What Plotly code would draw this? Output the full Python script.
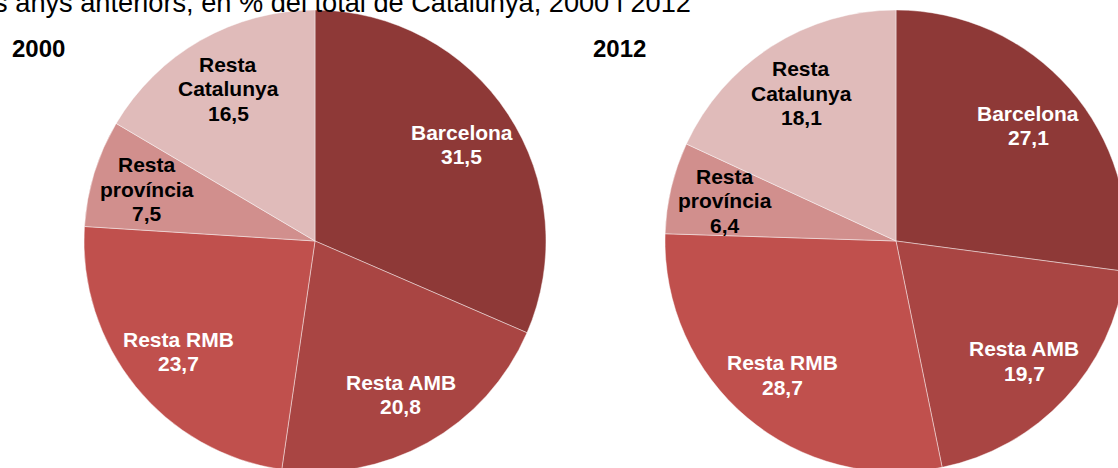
import math
import plotly.graph_objects as go

# ---------------- data ----------------
categories = ["Barcelona", "Resta AMB", "Resta RMB", "Resta província", "Resta Catalunya"]
label_lines = [["Barcelona"], ["Resta AMB"], ["Resta RMB"], ["Resta", "província"], ["Resta", "Catalunya"]]
values_2000 = [31.5, 20.8, 23.7, 7.5, 16.5]
values_2012 = [27.1, 19.7, 28.7, 6.4, 18.1]
years = ["2000", "2012"]
title_text = "es anys anteriors, en % del total de Catalunya, 2000 i 2012"

# ---------------- style ----------------
colors = ["#8E3937", "#A94543", "#C0504D", "#D18F8D", "#E0BBBA"]
text_colors = ["white", "white", "white", "black", "black"]
FONT = "Liberation Sans, Arial, sans-serif"

W, H = 1130, 482          # figure larger than the window: pies are cropped like the reference
CX = [315, 896]           # pie centres (px)
CY = 241
R = 231
LABEL_R = 0.76
LINE_H = 24.5
YEAR_POS = [(38, 49), (619, 49)]

fig = go.Figure()
annotations = []
for k, vals in enumerate([values_2000, values_2012]):
    cx = CX[k]
    fig.add_trace(go.Pie(
        labels=categories, values=vals, sort=False, direction="clockwise", rotation=0,
        marker=dict(colors=colors, line=dict(color="rgba(255,255,255,0.55)", width=0.8)),
        textinfo="none", hoverinfo="label+value", showlegend=False,
        domain=dict(x=[(cx - R) / W, (cx + R) / W], y=[1 - (CY + R) / H, 1 - (CY - R) / H]),
    ))
    total = sum(vals)
    cum = 0.0
    for i, v in enumerate(vals):
        mid = (cum + v / 2) / total * 2 * math.pi
        cum += v
        px = cx + LABEL_R * R * math.sin(mid)
        py = CY - LABEL_R * R * math.cos(mid)
        lines = label_lines[i] + [f"{v:.1f}".replace(".", ",")]
        n = len(lines)
        for j, line in enumerate(lines):
            ly = py + (j - (n - 1) / 2) * LINE_H
            annotations.append(dict(
                x=px / W, y=1 - ly / H, xref="paper", yref="paper",
                xanchor="center", yanchor="middle", showarrow=False, text=line,
                font=dict(family=FONT, size=21, color=text_colors[i], weight="bold"),
            ))
    yx, yy = YEAR_POS[k]
    annotations.append(dict(
        x=yx / W, y=1 - yy / H, xref="paper", yref="paper", xanchor="center", yanchor="middle",
        showarrow=False, text=years[k], font=dict(family=FONT, size=24, color="black", weight="bold"),
    ))

annotations.append(dict(
    x=693 / W, y=1 - 3 / H, xref="paper", yref="paper", xanchor="right", yanchor="middle",
    showarrow=False, text=title_text, font=dict(family=FONT, size=27.2, color="black"),
))

fig.update_layout(
    width=W, height=H, margin=dict(l=0, r=0, t=0, b=0),
    paper_bgcolor="white", plot_bgcolor="white",
    annotations=annotations,
)

fig.write_html(
    "out.html",
    config={"displayModeBar": False},
    post_script="document.body.style.margin='0';document.body.style.overflow='hidden';"
                "document.documentElement.style.overflow='hidden';",
)
